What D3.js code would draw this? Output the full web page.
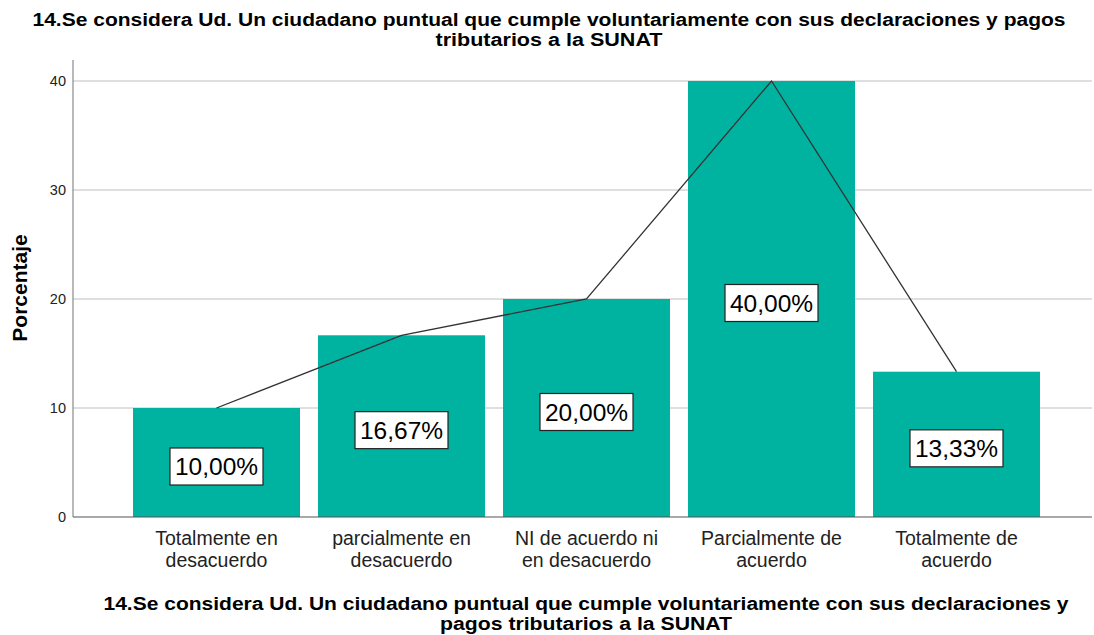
<!DOCTYPE html>
<html>
<head>
<meta charset="utf-8">
<script src="https://cdn.jsdelivr.net/npm/d3@7"></script>
<style>
  body { margin: 0; background: #fff; }
  svg { display: block; font-family: "Liberation Sans", Arial, sans-serif; }
</style>
</head>
<body>
<div id="chart"></div>
<script>
// Data
const categories = [
    ["Totalmente en", "desacuerdo"],
    ["parcialmente en", "desacuerdo"],
    ["NI de acuerdo ni", "en desacuerdo"],
    ["Parcialmente de", "acuerdo"],
    ["Totalmente de", "acuerdo"]
];
const percentages = [10.00, 16.67, 20.00, 40.00, 13.33];
const yTicks = [0, 10, 20, 30, 40];
const titleLines = [
    "14.Se considera Ud. Un ciudadano puntual que cumple voluntariamente con sus declaraciones y pagos",
    "tributarios a la SUNAT"
];
const xTitleLines = [
    "14.Se considera Ud. Un ciudadano puntual que cumple voluntariamente con sus declaraciones y",
    "pagos tributarios a la SUNAT"
];

const width = 1094, height = 635;
const axisLeft = 73, axisRight = 1092;

const svg = d3.select("#chart").append("svg")
    .attr("width", width)
    .attr("height", height);

// Scales
const x = d3.scaleBand()
    .domain(d3.range(categories.length))
    .range([133, 1040])
    .paddingInner(18 / 185)
    .paddingOuter(0);

const y = d3.scaleLinear()
    .domain([0, 40])
    .range([517, 81]);

// Gridlines
svg.append("g")
    .selectAll("line")
    .data(yTicks.filter(d => d > 0))
    .enter()
    .append("line")
    .attr("x1", axisLeft)
    .attr("x2", axisRight)
    .attr("y1", d => y(d))
    .attr("y2", d => y(d))
    .style("stroke", "#d4d4d4")
    .style("stroke-width", 1.5);

// Bars
svg.append("g")
    .selectAll("rect")
    .data(percentages)
    .enter()
    .append("rect")
    .attr("x", (d, i) => x(i))
    .attr("y", d => y(d))
    .attr("width", x.bandwidth())
    .attr("height", d => y(0) - y(d))
    .style("fill", "#00b2a0");

// Line through bar tops
const line = d3.line()
    .x((d, i) => x(i) + x.bandwidth() / 2)
    .y(d => y(d));

svg.append("path")
    .datum(percentages)
    .attr("d", line)
    .style("fill", "none")
    .style("stroke", "#333")
    .style("stroke-width", 1.3);

// Y axis
const yAxis = d3.axisLeft(y)
    .tickValues(yTicks)
    .tickSize(0)
    .tickPadding(7);

const yg = svg.append("g")
    .attr("transform", `translate(${axisLeft},0)`)
    .call(yAxis);
yg.select(".domain").remove();
yg.selectAll(".tick text")
    .style("font-size", "14.5px")
    .style("fill", "#222");

svg.append("line")
    .attr("x1", axisLeft).attr("x2", axisLeft)
    .attr("y1", 60).attr("y2", y(0))
    .style("stroke", "#8a8a8a")
    .style("stroke-width", 1.2);

// X axis
svg.append("line")
    .attr("x1", axisLeft).attr("x2", axisRight)
    .attr("y1", y(0)).attr("y2", y(0))
    .style("stroke", "#555")
    .style("stroke-width", 1.2);

const xLabels = svg.append("g")
    .selectAll("text")
    .data(categories)
    .enter()
    .append("text")
    .attr("x", (d, i) => x(i) + x.bandwidth() / 2)
    .attr("y", 545)
    .attr("text-anchor", "middle")
    .style("font-size", "19.5px")
    .style("fill", "#222");

xLabels.selectAll("tspan")
    .data(d => d)
    .enter()
    .append("tspan")
    .attr("x", function () { return d3.select(this.parentNode).attr("x"); })
    .attr("dy", (d, i) => i === 0 ? 0 : 22)
    .text(d => d);

// Value labels
const labels = svg.append("g")
    .selectAll("g")
    .data(percentages)
    .enter()
    .append("g")
    .attr("transform", (d, i) => `translate(${x(i) + x.bandwidth() / 2},${(y(d) + y(0)) / 2 + 4})`);

labels.append("rect")
    .attr("x", -46.5)
    .attr("y", -18.5)
    .attr("width", 93)
    .attr("height", 37)
    .style("fill", "#fff")
    .style("stroke", "#222")
    .style("stroke-width", 1.2);

labels.append("text")
    .attr("text-anchor", "middle")
    .attr("dy", "0.36em")
    .style("font-size", "24.5px")
    .style("fill", "#000")
    .text(d => d.toFixed(2).replace(".", ",") + "%");

// Titles (condensed bold, stretched to the reference widths)
function titleBlock(lines, cx, y0, widths) {
    svg.append("g")
        .selectAll("text")
        .data(lines)
        .enter()
        .append("text")
        .attr("x", cx)
        .attr("y", (d, i) => y0 + i * 19.5)
        .attr("text-anchor", "middle")
        .attr("textLength", (d, i) => widths[i])
        .attr("lengthAdjust", "spacingAndGlyphs")
        .style("font-weight", "bold")
        .style("font-size", "18px")
        .style("fill", "#000")
        .text(d => d);
}

titleBlock(titleLines, 549, 26, [1033, 227]);
titleBlock(xTitleLines, 586, 610, [965, 292]);

svg.append("text")
    .attr("transform", "translate(27,288) rotate(-90)")
    .attr("text-anchor", "middle")
    .style("font-weight", "bold")
    .style("font-size", "21px")
    .style("fill", "#000")
    .text("Porcentaje");
</script>
</body>
</html>
